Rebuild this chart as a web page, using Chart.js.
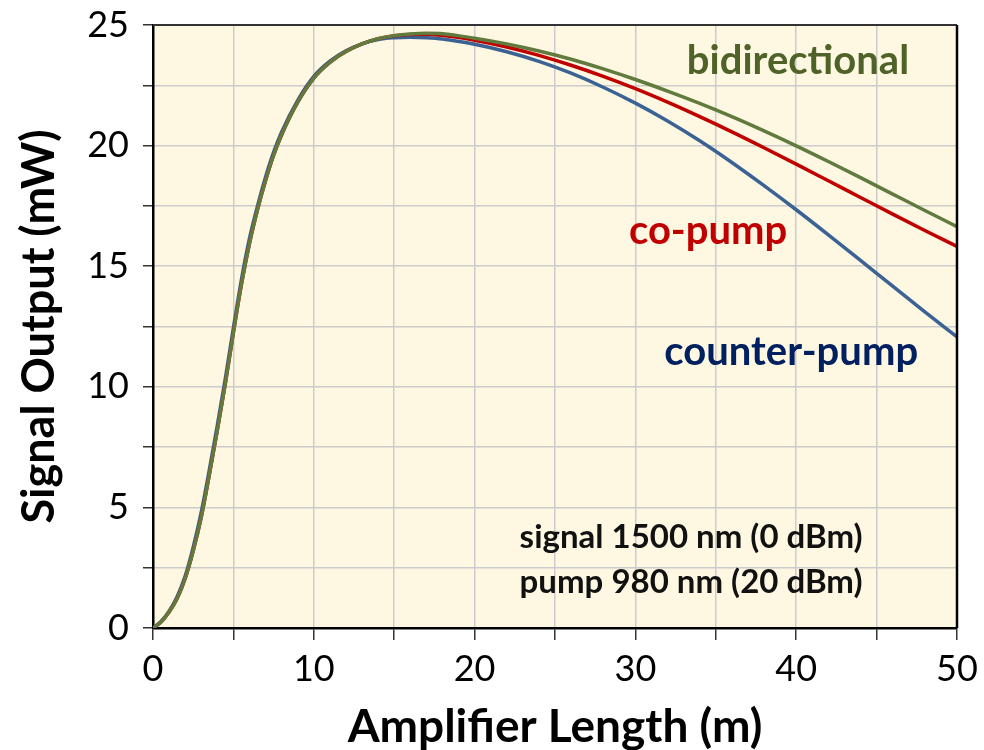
<!DOCTYPE html>
<html>
<head>
<meta charset="utf-8">
<script src="https://cdn.jsdelivr.net/npm/chart.js@4.4.1/dist/chart.umd.min.js"></script>
<style>
  html, body { margin: 0; padding: 0; background: #fff; }
  #wrap { width: 984px; height: 750px; }
</style>
</head>
<body>
<div id="wrap"><canvas id="gainChart" width="984" height="750"></canvas></div>
<script>
// amplifier length (m)
const lengths = [0, 0.5, 1, 1.5, 2, 2.5, 3, 3.5, 4, 4.5, 5, 5.5, 6, 6.5, 7, 7.5, 8, 9, 10, 11, 12, 13, 14, 15, 16, 17, 18,
  20, 22, 24, 26, 28, 30, 32, 34, 36, 38, 40, 42, 44, 46, 48, 50];

// signal output (mW) for each pumping scheme
const bidirectional = [0, 0.25, 0.66, 1.22, 2.05, 3.2, 4.6, 6.35, 8.2, 10.15, 12.25, 14.25, 15.95, 17.35, 18.55, 19.6, 20.45, 21.8, 22.8, 23.45, 23.9, 24.22, 24.43, 24.56, 24.63, 24.66, 24.64,
  24.45, 24.21, 23.92, 23.58, 23.18, 22.74, 22.26, 21.75, 21.2, 20.61, 19.99, 19.34, 18.67, 17.99, 17.31, 16.64];
const coPump = [0, 0.25, 0.66, 1.22, 2.05, 3.2, 4.6, 6.35, 8.2, 10.15, 12.25, 14.25, 15.95, 17.35, 18.55, 19.6, 20.45, 21.8, 22.8, 23.45, 23.9, 24.22, 24.43, 24.55, 24.61, 24.62, 24.57,
  24.37, 24.09, 23.74, 23.33, 22.87, 22.36, 21.8, 21.2, 20.57, 19.91, 19.23, 18.54, 17.85, 17.16, 16.48, 15.82];
const counterPump = [0, 0.27, 0.7, 1.3, 2.15, 3.35, 4.8, 6.55, 8.4, 10.35, 12.45, 14.45, 16.15, 17.5, 18.7, 19.73, 20.57, 21.88, 22.87, 23.5, 23.93, 24.22, 24.4, 24.47, 24.49, 24.47, 24.42,
  24.2, 23.89, 23.49, 23.0, 22.42, 21.76, 21.02, 20.2, 19.3, 18.34, 17.34, 16.3, 15.24, 14.17, 13.11, 12.07];

const xTicks = [0, 10, 20, 30, 40, 50];
const yTicks = [0, 5, 10, 15, 20, 25];

const FONT = "Lato, 'Open Sans', sans-serif";

function pts(ys) {
  return lengths.map((x, i) => ({ x: x, y: ys[i] }));
}

// text drawn inside the plot, placed in data units (x, y = left end of the baseline)
const notes = [
  { text: 'bidirectional', x: 33.2, y: 22.95, color: '#4f6228', size: 40 },
  { text: 'co-pump', x: 29.6, y: 15.9, color: '#c00000', size: 40 },
  { text: 'counter-pump', x: 31.8, y: 10.9, color: '#002060', size: 40 },
  { text: 'signal 1500 nm (0 dBm)', x: 22.8, y: 3.3, color: '#111', size: 33 },
  { text: 'pump 980 nm (20 dBm)', x: 22.8, y: 1.45, color: '#111', size: 33 }
];

const plotDecor = {
  id: 'plotDecor',
  beforeDraw(chart) {
    const { ctx, chartArea: a } = chart;
    ctx.save();
    ctx.fillStyle = '#fef7e1';
    ctx.fillRect(a.left, a.top, a.right - a.left, a.bottom - a.top);
    ctx.restore();
  },
  afterDraw(chart) {
    const { ctx, chartArea: a, scales } = chart;
    ctx.save();
    // top and right frame
    ctx.strokeStyle = '#333';
    ctx.lineWidth = 2;
    ctx.beginPath();
    ctx.moveTo(a.left, a.top);
    ctx.lineTo(a.right, a.top);
    ctx.stroke();
    ctx.strokeStyle = '#000';
    ctx.lineWidth = 2.5;
    ctx.beginPath();
    ctx.moveTo(a.right, a.top);
    ctx.lineTo(a.right, a.bottom);
    ctx.stroke();

    ctx.textAlign = 'left';
    ctx.textBaseline = 'alphabetic';
    notes.forEach(n => {
      ctx.font = 'bold ' + n.size + 'px ' + FONT;
      ctx.fillStyle = n.color;
      ctx.fillText(n.text, scales.x.getPixelForValue(n.x), scales.y.getPixelForValue(n.y));
    });
    ctx.restore();
  }
};

new Chart(document.getElementById('gainChart'), {
  type: 'line',
  data: {
    datasets: [
      { label: 'bidirectional', data: pts(bidirectional), borderColor: '#617b3f', borderWidth: 3.5 },
      { label: 'co-pump', data: pts(coPump), borderColor: '#c00000', borderWidth: 3.5 },
      { label: 'counter-pump', data: pts(counterPump), borderColor: '#3b6294', borderWidth: 3.5 }
    ]
  },
  options: {
    responsive: false,
    animation: false,
    layout: { padding: { top: 25, right: 27, left: 0, bottom: 0 } },
    elements: {
      point: { radius: 0 },
      line: { cubicInterpolationMode: 'monotone', fill: false }
    },
    plugins: {
      legend: { display: false },
      tooltip: { enabled: false }
    },
    scales: {
      x: {
        type: 'linear',
        min: 0,
        max: 50,
        afterFit(scale) {
          scale.height = 122;
          scale.paddingLeft = 0;
          scale.paddingRight = 0;
        },
        border: { color: '#000', width: 2.5 },
        grid: { color: '#cccccc', lineWidth: 1.5, tickColor: '#333', tickLength: 12 },
        ticks: {
          stepSize: 5,
          padding: 8,
          color: '#000',
          font: { family: FONT, size: 36 },
          callback: v => xTicks.includes(v) ? v : ''
        },
        title: {
          display: true,
          text: 'Amplifier Length (m)',
          color: '#000',
          padding: { top: 0, bottom: -5 },
          font: { family: FONT, size: 46, weight: 'bold' }
        }
      },
      y: {
        min: 0,
        max: 25,
        afterFit(scale) {
          scale.width = 153;
          scale.paddingTop = 0;
          scale.paddingBottom = 0;
        },
        border: { color: '#000', width: 2.5 },
        grid: { color: '#cccccc', lineWidth: 1.5, tickColor: '#333', tickLength: 10 },
        ticks: {
          stepSize: 2.5,
          padding: 14,
          color: '#000',
          font: { family: FONT, size: 36 },
          callback: v => yTicks.includes(v) ? v : ''
        },
        title: {
          display: true,
          text: 'Signal Output (mW)',
          color: '#000',
          padding: { top: 12, bottom: 0 },
          font: { family: FONT, size: 45, weight: 'bold' }
        }
      }
    }
  },
  plugins: [plotDecor]
});
</script>
</body>
</html>
